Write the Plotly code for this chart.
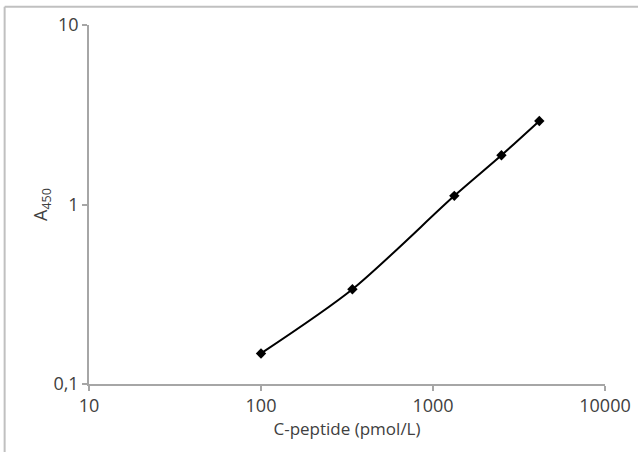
import plotly.graph_objects as go

# Data
c_peptide = [100, 340, 1330, 2500, 4150]   # pmol/L
a450 = [0.148, 0.337, 1.117, 1.88, 2.92]

x_tickvals = [10, 100, 1000, 10000]
x_ticktext = ["10", "100", "1000", "10000"]
y_tickvals = [0.1, 1, 10]
y_ticktext = ["0,1", "1", "10"]

fig = go.Figure()
fig.add_trace(go.Scatter(
    x=c_peptide, y=a450,
    mode="lines+markers",
    line=dict(color="black", width=2, shape="spline", smoothing=0.8),
    marker=dict(symbol="diamond", size=8, color="black"),
    showlegend=False,
))

axis_common = dict(
    showgrid=False, zeroline=False, automargin=False,
    showline=True, linecolor="#a6a6a6", linewidth=1.5,
    ticks="outside", ticklen=5, tickcolor="#a6a6a6", tickwidth=1.5,
    tickfont=dict(family="Open Sans", size=18, color="#404040"),
)

fig.update_layout(
    width=638, height=452, autosize=False,
    margin=dict(l=89, r=33, t=25, b=68, autoexpand=False),
    paper_bgcolor="white", plot_bgcolor="white",
    xaxis=dict(type="log", range=[1, 4], tickvals=x_tickvals, ticktext=x_ticktext,
               title=dict(text="C-peptide (pmol/L)", standoff=0,
                          font=dict(family="Open Sans", size=17, color="#404040")),
               **axis_common),
    yaxis=dict(type="log", range=[-1, 1], tickvals=y_tickvals, ticktext=y_ticktext,
               title=dict(text="A<sub>450</sub>", standoff=1,
                          font=dict(family="Open Sans", size=18, color="#404040")),
               **axis_common),
    shapes=[
        dict(type="line", xref="paper", yref="paper",
             x0=-0.1635, x1=1.2, y0=1.051, y1=1.051,
             line=dict(color="#c0c0c0", width=2)),
        dict(type="line", xref="paper", yref="paper",
             x0=-0.1635, x1=-0.1635, y0=1.051, y1=-0.3,
             line=dict(color="#c0c0c0", width=2)),
    ],
)

fig.write_html("out.html", config={"displayModeBar": False},
               post_script="document.body.style.margin='0';document.body.style.padding='0';")
